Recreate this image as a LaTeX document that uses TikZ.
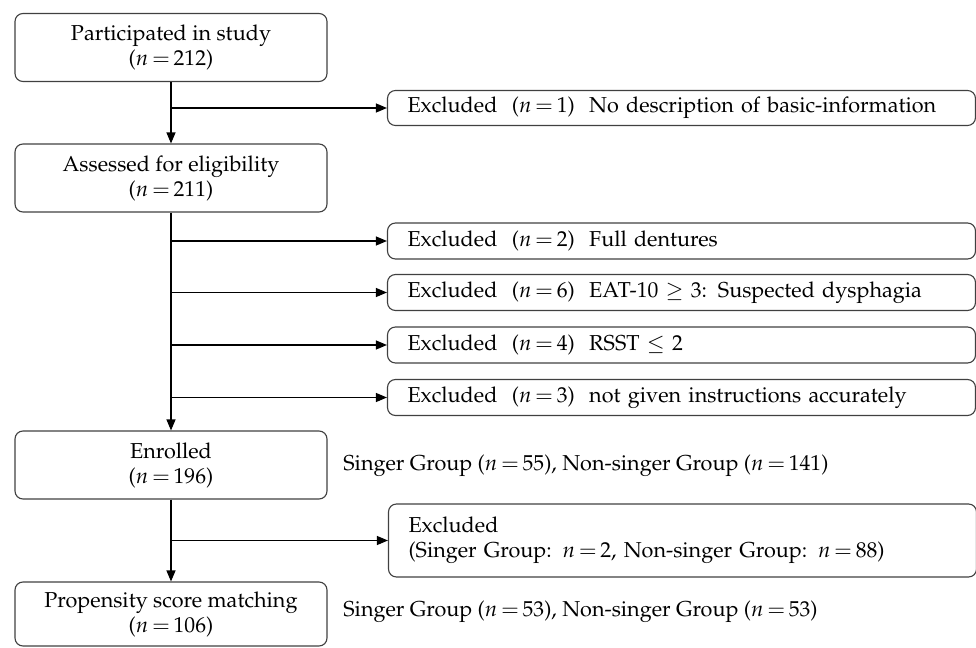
\documentclass[tikz,border=0pt]{standalone}
\usepackage{amsmath,amssymb}
\usepackage[T1]{fontenc}
\usepackage{mathpazo}
\usetikzlibrary{arrows.meta}
\newcommand{\nn}[1]{$n\,{=}\,#1$}
\tikzstyle{mainbox} = [rectangle, rounded corners=4pt, minimum width=156pt, minimum height=34pt, align=center, draw=black!75, line width=0.55pt, font=\fontsize{10.8}{12.5}\selectfont]
\tikzstyle{exbox} = [rectangle, rounded corners=4pt, minimum height=17.5pt, inner xsep=10pt, text width=274pt, align=left, draw=black!75, line width=0.55pt, font=\fontsize{10.8}{12.5}\selectfont]
\tikzstyle{side} = [anchor=west, inner sep=0pt, font=\fontsize{10.8}{12.5}\selectfont]
\tikzstyle{arrow} = [line width=0.55pt, ->, >={Triangle[length=5.5pt,width=4.5pt]}]
\tikzstyle{line} = [line width=0.55pt]

\begin{document}
\begin{tikzpicture}[x=0.5pt, y=-0.5pt]
\useasboundingbox (0,0) rectangle (976,648);
\node (part) [mainbox] at (171,47.5) {Participated in study\\(\nn{212})};
\node (assess) [mainbox] at (171,178) {Assessed for eligibility\\(\nn{211})};
\node (enrol) [mainbox] at (171,465) {Enrolled\\(\nn{196})};
\node (psm) [mainbox, minimum height=32pt] at (171,614) {Propensity score matching\\(\nn{106})};

\node (ex1) [exbox] at (681.5,108) {Excluded\ \ (\nn{1})\ \ No description of basic-information};
\node (ex2) [exbox, minimum height=18pt] at (681.5,241) {Excluded\ \ (\nn{2})\ \ Full dentures};
\node (ex3) [exbox, minimum height=18pt] at (681.5,292.5) {Excluded\ \ (\nn{6})\ \ EAT-10 $\geq$ 3: Suspected dysphagia};
\node (ex4) [exbox, minimum height=18pt] at (681.5,345) {Excluded\ \ (\nn{4})\ \ RSST $\leq$ 2};
\node (ex5) [exbox, minimum height=18pt] at (681.5,397.5) {Excluded\ \ (\nn{3})\ \ not given instructions accurately};
\node (ex6) [exbox, minimum height=36.5pt] at (682.5,540.5) {Excluded\\(Singer Group: \nn{2}, Non-singer Group: \nn{88})};

\node (grp1) [side] at (343,466) {Singer Group (\nn{55}), Non-singer Group (\nn{141})};
\node (grp2) [side] at (343,612) {Singer Group (\nn{53}), Non-singer Group (\nn{53})};

\draw [arrow](part) -- (assess);
\draw [arrow](assess) -- (enrol);
\draw [arrow](enrol) -- (psm);
\draw [arrow](ex1.west -| part.south) -- (ex1.west);
\draw [arrow](ex2.west -| assess.south) -- (ex2.west);
\draw [arrow](ex3.west -| assess.south) -- (ex3.west);
\draw [arrow](ex4.west -| assess.south) -- (ex4.west);
\draw [arrow](ex5.west -| assess.south) -- (ex5.west);
\draw [arrow](ex6.west -| enrol.south) -- (ex6.west);
\end{tikzpicture}
\end{document}
